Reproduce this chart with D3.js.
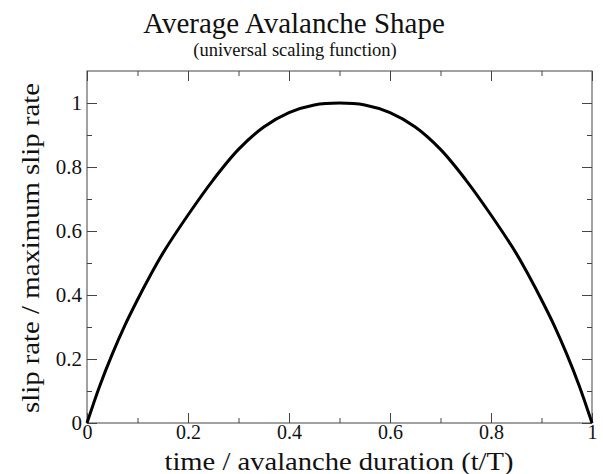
<!DOCTYPE html>
<html>
<head>
<meta charset="utf-8">
<script src="https://cdn.jsdelivr.net/npm/d3@7"></script>
<style>
  body { margin: 0; background: #fff; }
  text { font-family: "Liberation Serif", "Times New Roman", serif; fill: #111; }
  .axis path, .axis line { stroke: #444; }
</style>
</head>
<body>
<svg width="603" height="474"></svg>
<script>
// scaling function
const tValues = [0, 0.025, 0.05, 0.075, 0.1, 0.125, 0.15, 0.2, 0.25, 0.3, 0.35, 0.4, 0.45, 0.5,
  0.55, 0.6, 0.65, 0.7, 0.75, 0.8, 0.85, 0.875, 0.9, 0.925, 0.95, 0.975, 1];
const shapeValues = [0, 0.115, 0.215, 0.305, 0.385, 0.46, 0.53, 0.65, 0.76, 0.855, 0.925, 0.97, 0.994, 1.0,
  0.994, 0.97, 0.925, 0.855, 0.76, 0.65, 0.53, 0.46, 0.385, 0.305, 0.215, 0.115, 0];

const xMajor = [0, 0.2, 0.4, 0.6, 0.8, 1];
const xMinor = [0.1, 0.3, 0.5, 0.7, 0.9];
const yMajor = [0, 0.2, 0.4, 0.6, 0.8, 1];
const yMinor = [0.1, 0.3, 0.5, 0.7, 0.9];

const svg = d3.select("svg");
const m = { left: 87, right: 592, top: 71, bottom: 423 };

const x = d3.scaleLinear().domain([0, 1]).range([m.left, m.right]);
const y = d3.scaleLinear().domain([0, 1.1]).range([m.bottom, m.top]);

const fmt = d => String(d);

// frame
svg.append("rect")
  .attr("x", m.left).attr("y", m.top)
  .attr("width", m.right - m.left).attr("height", m.bottom - m.top)
  .attr("fill", "none").attr("stroke", "#444");

// bottom
svg.append("g").attr("class", "axis")
  .attr("transform", `translate(0,${m.bottom})`)
  .call(d3.axisBottom(x).tickValues(xMajor).tickSize(-10).tickSizeOuter(0).tickPadding(2).tickFormat(fmt))
  .call(g => g.selectAll("text").attr("font-size", "20px"));
svg.append("g").attr("class", "axis")
  .attr("transform", `translate(0,${m.bottom})`)
  .call(d3.axisBottom(x).tickValues(xMinor).tickSize(-5).tickSizeOuter(0).tickFormat(""));
// top
svg.append("g").attr("class", "axis")
  .attr("transform", `translate(0,${m.top})`)
  .call(d3.axisTop(x).tickValues(xMajor).tickSize(-10).tickSizeOuter(0).tickFormat(""));
svg.append("g").attr("class", "axis")
  .attr("transform", `translate(0,${m.top})`)
  .call(d3.axisTop(x).tickValues(xMinor).tickSize(-5).tickSizeOuter(0).tickFormat(""));
// left
svg.append("g").attr("class", "axis")
  .attr("transform", `translate(${m.left},0)`)
  .call(d3.axisLeft(y).tickValues(yMajor).tickSize(-10).tickSizeOuter(0).tickPadding(5).tickFormat(fmt))
  .call(g => g.selectAll("text").attr("font-size", "21px"));
svg.append("g").attr("class", "axis")
  .attr("transform", `translate(${m.left},0)`)
  .call(d3.axisLeft(y).tickValues(yMinor).tickSize(-5).tickSizeOuter(0).tickFormat(""));
// right
svg.append("g").attr("class", "axis")
  .attr("transform", `translate(${m.right},0)`)
  .call(d3.axisRight(y).tickValues(yMajor).tickSize(-10).tickSizeOuter(0).tickFormat(""));
svg.append("g").attr("class", "axis")
  .attr("transform", `translate(${m.right},0)`)
  .call(d3.axisRight(y).tickValues(yMinor).tickSize(-5).tickSizeOuter(0).tickFormat(""));

svg.selectAll(".axis .domain").remove();
svg.selectAll(".axis text").attr("font-family", null);

// curve
const line = d3.line()
  .x((d, i) => x(tValues[i]))
  .y(d => y(d))
  .curve(d3.curveCatmullRom.alpha(0.5));

svg.append("path")
  .datum(shapeValues)
  .attr("d", line)
  .attr("fill", "none")
  .attr("stroke", "#000")
  .attr("stroke-width", 3);

// titles
svg.append("text")
  .attr("x", 294).attr("y", 33)
  .attr("text-anchor", "middle")
  .attr("font-size", "29px")
  .text("Average Avalanche Shape");
svg.append("text")
  .attr("x", 295).attr("y", 56)
  .attr("text-anchor", "middle")
  .attr("font-size", "18.5px")
  .text("(universal scaling function)");

svg.append("text")
  .attr("x", 339).attr("y", 470)
  .attr("text-anchor", "middle")
  .attr("font-size", "24.5px")
  .attr("textLength", 349)
  .attr("lengthAdjust", "spacingAndGlyphs")
  .text("time / avalanche duration (t/T)");

svg.append("text")
  .attr("transform", "translate(39,248) rotate(-90)")
  .attr("text-anchor", "middle")
  .attr("font-size", "26px")
  .attr("textLength", 330)
  .attr("lengthAdjust", "spacingAndGlyphs")
  .text("slip rate / maximum slip rate");
</script>
</body>
</html>
